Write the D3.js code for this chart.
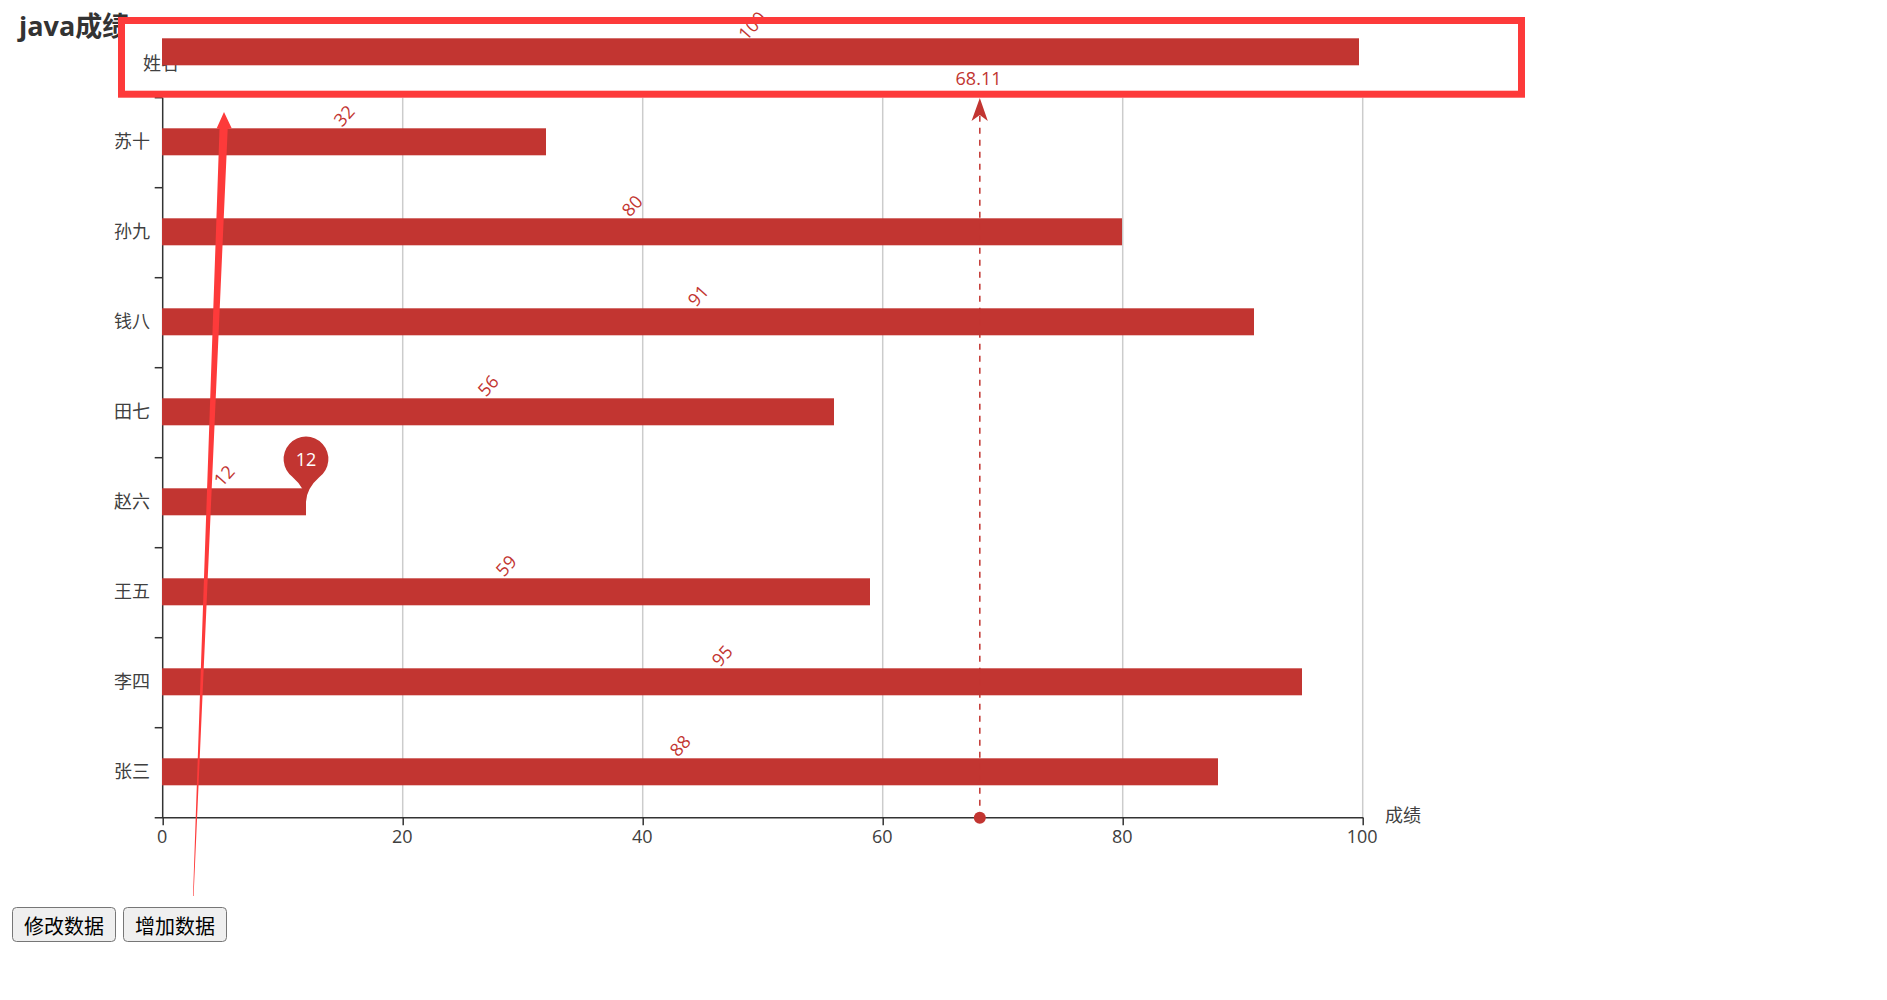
<!DOCTYPE html>
<html><head><meta charset="utf-8">
<script src="https://cdn.jsdelivr.net/npm/d3@7/dist/d3.min.js"></script>
<style>
html,body{margin:0;padding:0;background:#fff;overflow:hidden}
svg{position:absolute;left:0;top:0}
text{font-family:"Open Sans","Noto Sans CJK SC",sans-serif}
button{position:absolute;top:907px;width:104px;height:35px;padding:2px 0 0 0;font:20px "Noto Sans CJK SC",sans-serif;color:#000;background:#efefef;border:1.5px solid #767676;border-radius:4.5px;line-height:1}
</style></head><body>
<svg id="c" width="1887" height="1000"></svg>
<button style="left:12px">修改数据</button>
<button style="left:123px">增加数据</button>
<script>
const titleText = "java成绩";
const categories = ["张三","李四","王五","赵六","田七","钱八","孙九","苏十",""];
const barValues = [88,95,59,12,56,91,80,32,99.75];
const valueLabels = [88,95,59,12,56,91,80,32,100];
const xTicks = [0,20,40,60,80,100];
const yAxisName = "姓名";
const xAxisName = "成绩";
const meanValue = 68.11;
const maxPoint = {cat:"赵六", value:12};

const svg = d3.select("#c");
const red = "#c23531", mark = "#fd3a3a", ink = "#404040";
const x = d3.scaleLinear().domain([0,100]).range([162.7,1362.7]);
const barX = d3.scaleLinear().domain([0,100]).range([162,1362]);
const y = d3.scaleBand().domain(categories).range([817.7,7.7]);
const step = y.step(), barH = 27, gridTop = 97.7, bottom = 817.7;
const barTop = c => y(c) + (step-barH)/2 - 0.9;

// grid
svg.append("g").selectAll("line").data(xTicks.slice(1)).join("line")
  .attr("x1",x).attr("x2",x).attr("y1",gridTop).attr("y2",bottom)
  .attr("stroke","#ccc").attr("stroke-width",1.5);

// x axis
const xg = svg.append("g").attr("transform",`translate(0,${bottom})`)
  .call(d3.axisBottom(x).tickValues(xTicks).tickSize(7.5).tickPadding(5).tickSizeOuter(0));
xg.select(".domain").remove();
xg.selectAll("line").attr("stroke","#333").attr("stroke-width",1.5);
xg.selectAll("text").attr("font-size",18).attr("fill",ink).attr("font-family",'"Open Sans"').attr("x",-1);
svg.append("line").attr("x1",x(0)-8).attr("x2",x(100)+0.7).attr("y1",bottom).attr("y2",bottom).attr("stroke","#333").attr("stroke-width",1.5);

// y axis
svg.append("line").attr("x1",x(0)).attr("x2",x(0)).attr("y1",gridTop).attr("y2",bottom).attr("stroke","#333").attr("stroke-width",1.5);
svg.append("g").selectAll("line").data(categories.slice(1)).join("line")
  .attr("x1",x(0)-8).attr("x2",x(0)).attr("y1",c=>y(c)+step).attr("y2",c=>y(c)+step)
  .attr("stroke","#333").attr("stroke-width",1.5);
svg.append("g").selectAll("text").data(categories).join("text")
  .attr("x",150).attr("y",c=>barTop(c)+barH/2+6).attr("text-anchor","end")
  .attr("font-size",18).attr("fill",ink).text(c=>c);

// title (under the annotation box)
svg.append("text").attr("x",19).attr("y",36).attr("font-size",27).attr("font-weight",700).attr("fill","#333").text(titleText);

// annotation box interior
svg.append("rect").attr("x",121.5).attr("y",20.5).attr("width",1400).attr("height",73.7).attr("fill","#fff");

// axis name
svg.append("text").attr("x",161).attr("y",70).attr("text-anchor","middle").attr("font-size",18).attr("fill",ink).text(yAxisName);
svg.append("text").attr("x",1385).attr("y",822).attr("font-size",18).attr("fill",ink).text(xAxisName);

// value labels
svg.append("g").selectAll("text").data(valueLabels).join("text")
  .attr("transform",(d,i)=>`translate(${barX(d/2)+0.5},${barTop(categories[i])-3.3}) rotate(-48)`)
  .attr("text-anchor","middle").attr("y",-7.5).attr("font-size",18).attr("fill",red).text(d=>d);

// bars
svg.append("g").selectAll("rect").data(barValues).join("rect")
  .attr("x",barX(0)).attr("y",(d,i)=>barTop(categories[i]))
  .attr("width",d=>barX(d)-barX(0)).attr("height",barH).attr("fill",red);

// mean line
const mx = x(meanValue)-0.2;
svg.append("line").attr("x1",mx).attr("x2",mx).attr("y1",bottom-6).attr("y2",115)
  .attr("stroke",red).attr("stroke-width",1.5).attr("stroke-dasharray","6 6").attr("stroke-dashoffset",-6);
svg.append("circle").attr("cx",mx).attr("cy",bottom).attr("r",6).attr("fill",red);
svg.append("path").attr("fill",red).attr("d",d3.line()([[mx,98],[mx+8,121],[mx,115],[mx-8.3,121]])+"Z");
svg.append("text").attr("x",mx-1.3).attr("y",85).attr("text-anchor","middle").attr("font-size",18).attr("fill",red).text(meanValue);

// max pin
const px = barX(maxPoint.value), pBar = barTop(maxPoint.cat);
const pin = d3.path();
const cy = pBar-29.3, r = 22.4, tip = pBar+13.5;
pin.moveTo(px-13.5, cy+18);
pin.arc(px, cy, r, Math.PI*0.705, Math.PI*0.295, false);
pin.quadraticCurveTo(px+0.5, pBar, px, tip);
pin.quadraticCurveTo(px-0.5, pBar, px-13.5, cy+18);
svg.append("path").attr("d",pin.toString()).attr("fill",red);
svg.append("text").attr("x",px).attr("y",cy+7).attr("text-anchor","middle").attr("font-size",18).attr("fill","#fff").text(maxPoint.value);

// annotation box stroke
svg.append("rect").attr("x",121.5).attr("y",20.5).attr("width",1400).attr("height",73.7).attr("fill","none").attr("stroke",mark).attr("stroke-width",7);

// annotation arrow
svg.append("path").attr("fill",mark).attr("d",d3.line()([[193,896],[193.6,896],[227.7,129],[231.7,128.3],[224,112],[216.7,128.3],[219.5,129]])+"Z");
</script>
</body></html>
